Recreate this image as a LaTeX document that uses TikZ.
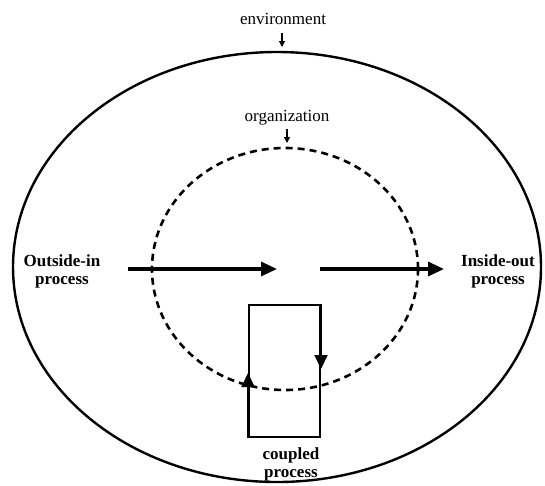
\documentclass[tikz,border=0pt]{standalone}
\usepackage{fontspec}
\setmainfont{Liberation Serif}
\usetikzlibrary{shapes.geometric,arrows.meta}
\begin{document}
\begin{tikzpicture}[x=1pt,y=-1pt,
  lbl/.style={font=\fontsize{17}{18}\selectfont, inner sep=0pt, align=center},
  blbl/.style={font=\fontsize{17}{18}\selectfont\bfseries, inner sep=0pt, align=center},
  bigarrow/.style={line width=3.2pt, -{Triangle[length=16pt,width=14pt]}},
  smallarrow/.style={line width=1.2pt, -{Triangle[length=6pt,width=6pt]}},
  loopside/.style={line width=2pt, -{Triangle[length=14pt,width=13pt]}}]
\useasboundingbox (0,0) rectangle (545,485);
% environment and organization
\node[ellipse, draw, line width=2.4pt, inner sep=0pt, minimum width=528pt, minimum height=430pt] (env) at (277,267) {};
\node[ellipse, draw, line width=2.6pt, dash pattern=on 7pt off 5pt, inner sep=0pt, minimum width=266pt, minimum height=242pt] (org) at (285,269) {};
\node[lbl] (envl) at (283,19) {environment};
\node[lbl] (orgl) at (287,118) {organization};
\coordinate (envs) at (282,33);
\coordinate (envt) at (282,47);
\coordinate (orgs) at (287,129);
\coordinate (orgt) at (287,143);
\draw[smallarrow] (envs) -- (envt);
\draw[smallarrow] (orgs) -- (orgt);
% processes
\node[blbl] (oin) at (62,271) {Outside-in\\process};
\node[blbl] (iout) at (498,271) {Inside-out\\process};
\coordinate (a1s) at (128,269);
\coordinate (a1e) at (277,269);
\coordinate (a2s) at (320,269);
\coordinate (a2e) at (444,269);
\draw[bigarrow] (a1s) -- (a1e);
\draw[bigarrow] (a2s) -- (a2e);
% coupled process
\node[draw, line width=2pt, inner sep=0pt, minimum width=71pt, minimum height=132pt] (box) at (284.5,371) {};
\draw[loopside] (box.south west) -- ([yshift=65pt]box.south west);
\draw[loopside] (box.north east) -- ([yshift=-65pt]box.north east);
\node[blbl] (cpl) at (291,464) {coupled\\process};
\end{tikzpicture}
\end{document}
